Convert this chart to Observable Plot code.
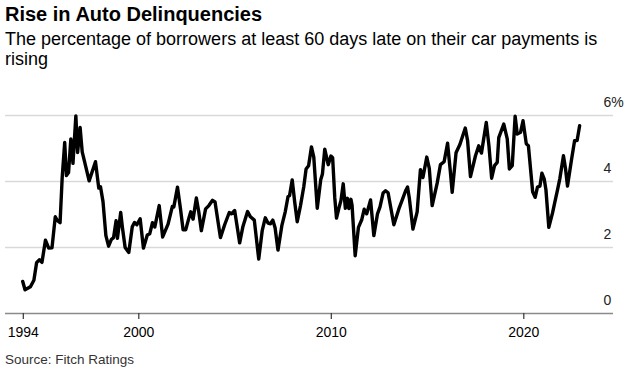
<!DOCTYPE html>
<html><head><meta charset="utf-8">
<script src="https://cdn.jsdelivr.net/npm/d3@7"></script>
<script src="https://cdn.jsdelivr.net/npm/@observablehq/plot@0.6"></script>
<style>
body{margin:0;background:#fff;font-family:"Liberation Sans",Arial,Helvetica,sans-serif;color:#000;}
#wrap{position:relative;width:633px;height:372px;overflow:hidden;background:#fff;}
#title{position:absolute;left:5px;top:2px;font-size:20px;font-weight:bold;line-height:24px;}
#sub{position:absolute;left:5px;top:29px;width:620px;font-size:18px;line-height:20px;}
#chart{position:absolute;left:0;top:80px;}
#src{position:absolute;left:5px;top:352px;font-size:13.5px;line-height:16px;color:#333;}
</style></head>
<body>
<div id="wrap">
  <div id="title">Rise in Auto Delinquencies</div>
  <div id="sub">The percentage of borrowers at least 60 days late on their car payments is rising</div>
  <div id="chart"></div>
  <div id="src">Source: Fitch Ratings</div>
</div>
<script>
const dates = [1993.97,1994.09,1994.37,1994.55,1994.69,1994.84,1994.97,1995.15,1995.32,1995.49,1995.66,1995.78,1995.91,1996.02,1996.15,1996.24,1996.35,1996.47,1996.58,1996.73,1996.82,1996.95,1997.06,1997.17,1997.42,1997.75,1997.92,1998.01,1998.14,1998.29,1998.43,1998.57,1998.69,1998.82,1998.89,1999.06,1999.15,1999.29,1999.48,1999.66,1999.78,1999.90,2000.07,2000.24,2000.44,2000.57,2000.71,2000.83,2001.06,2001.24,2001.52,2001.74,2001.82,2002.01,2002.17,2002.30,2002.44,2002.60,2002.70,2002.82,2002.99,2003.12,2003.25,2003.47,2003.64,2003.83,2003.96,2004.24,2004.46,2004.70,2004.81,2004.98,2005.24,2005.41,2005.65,2005.80,2006.00,2006.23,2006.41,2006.57,2006.71,2006.84,2006.96,2007.08,2007.23,2007.43,2007.61,2007.75,2007.83,2007.97,2008.10,2008.23,2008.40,2008.57,2008.69,2008.82,2008.97,2009.09,2009.27,2009.45,2009.54,2009.66,2009.84,2009.98,2010.07,2010.18,2010.27,2010.39,2010.50,2010.62,2010.73,2010.84,2010.91,2011.02,2011.08,2011.24,2011.41,2011.58,2011.71,2011.84,2012.04,2012.21,2012.40,2012.53,2012.69,2012.82,2012.95,2013.25,2013.51,2013.73,2013.86,2013.96,2014.05,2014.24,2014.46,2014.63,2014.76,2014.96,2015.09,2015.24,2015.50,2015.67,2015.86,2016.04,2016.18,2016.28,2016.48,2016.68,2016.96,2017.08,2017.23,2017.49,2017.66,2017.80,2018.05,2018.19,2018.33,2018.48,2018.62,2018.70,2018.96,2019.14,2019.25,2019.40,2019.55,2019.66,2019.83,2019.96,2020.13,2020.24,2020.46,2020.59,2020.71,2020.84,2020.94,2021.06,2021.15,2021.30,2021.49,2021.61,2021.76,2021.87,2022.06,2022.17,2022.27,2022.47,2022.64,2022.77,2022.90];
const rates = [0.97,0.72,0.81,1.01,1.54,1.63,1.55,2.22,1.98,1.99,2.93,2.81,2.75,4.12,5.18,4.18,4.27,5.29,4.55,5.99,4.88,5.64,4.90,4.63,4.02,4.60,3.80,3.84,3.39,2.36,2.04,2.24,2.30,2.81,2.28,3.06,2.60,2.00,1.85,2.63,2.76,2.69,2.87,1.98,2.38,2.42,2.75,2.62,3.27,2.32,2.71,3.24,3.23,3.83,3.15,2.54,2.54,2.89,3.08,2.86,3.50,3.06,2.51,3.17,3.27,3.43,3.38,2.30,2.69,3.06,3.02,3.12,2.14,2.64,3.09,2.93,2.83,1.65,2.51,2.90,2.74,2.72,2.83,2.60,1.92,2.66,3.09,3.54,3.57,4.05,3.37,2.78,3.27,3.84,4.38,4.48,5.05,4.74,3.19,4.05,4.23,4.98,4.51,4.77,4.72,3.51,2.89,3.18,3.42,3.93,3.19,3.49,3.18,3.46,3.27,1.75,2.61,2.84,3.16,3.02,3.44,2.36,3.02,3.23,3.65,3.72,3.66,2.69,3.17,3.51,3.72,3.83,3.51,2.56,3.08,4.36,4.12,4.74,4.40,3.27,3.95,4.51,4.60,5.16,4.33,3.67,4.87,5.12,5.62,5.24,4.15,4.78,5.08,4.86,5.79,5.08,4.10,4.48,4.58,5.33,5.74,5.29,4.38,4.48,5.98,5.44,5.49,5.84,5.14,5.08,3.69,3.52,3.83,3.86,4.25,4.08,3.75,2.61,3.04,3.37,3.77,4.08,4.78,4.38,3.86,4.63,5.24,5.24,5.69];
const xTicks = [1994, 2000, 2010, 2020];
const yTicks = [0, 2, 4, 6];
const gridValues = [2, 4, 6];

const data = dates.map((d, i) => ({date: d, rate: rates[i]}));

const chart = Plot.plot({
  width: 633,
  height: 265,
  marginLeft: 5,
  marginRight: 20,
  marginTop: 35,
  marginBottom: 32,
  style: {fontFamily: "'Liberation Sans', Arial, Helvetica, sans-serif", fontSize: "14px", color: "#000", background: "transparent", overflow: "visible"},
  x: {domain: [1993.075, 2024.66]},
  y: {domain: [0, 6]},
  marks: [
    Plot.ruleY(gridValues, {stroke: "#d9d9d9", strokeWidth: 1.5}),
    Plot.ruleY([0], {stroke: "#8a8a8a", strokeWidth: 1.6}),
    Plot.axisX({ticks: xTicks, tickFormat: d => String(d), tickSize: 6, tickPadding: 8, stroke: "#333", strokeWidth: 1.2, label: null, fill: "#000"}),
    Plot.axisY({anchor: "right", ticks: yTicks, tickFormat: d => d === 6 ? "6%" : String(d), tickSize: 0, tickPadding: 0, dx: -10, dy: -13, textAnchor: "start", label: null, fill: "#222"}),
    Plot.line(data, {x: "date", y: "rate", stroke: "#000", strokeWidth: 3.4, strokeLinejoin: "round"})
  ]
});
document.getElementById("chart").appendChild(chart);
</script>
</body></html>
